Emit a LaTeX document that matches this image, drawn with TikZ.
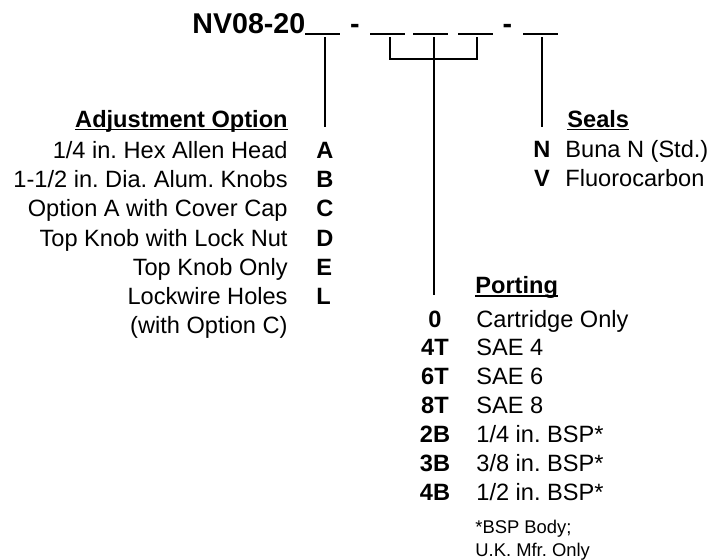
\documentclass[tikz,border=0pt]{standalone}
\usepackage{fontspec}
\setmainfont{Liberation Sans}
\usetikzlibrary{positioning}
\frenchspacing

\begin{document}
\begin{tikzpicture}[x=0.5pt,y=-0.5pt,
  txt/.style={inner sep=0pt,font=\fontsize{11.8}{14}\selectfont},
  code/.style={inner sep=0pt,font=\fontsize{11.8}{14}\selectfont\bfseries},
  blank/.style={line width=0.65pt},
  lead/.style={line width=0.55pt}]
  \useasboundingbox (0,0) rectangle (714,559);
  % model code
  \node[anchor=base west,inner sep=0pt,font=\fontsize{14.3}{17}\selectfont\bfseries] (model) at (192,33) {NV08-20};
  \node[anchor=base,inner sep=0pt,font=\fontsize{14.3}{17}\selectfont\bfseries] (dashA) at (355,33) {-};
  \node[anchor=base,inner sep=0pt,font=\fontsize{14.3}{17}\selectfont\bfseries] (dashB) at (507.5,33) {-};
  \foreach \n/\a/\b in {s1/305/340,s2/370/405,s3/413/448,s4/458/493,s5/523/558} {\coordinate (\n l) at (\a,34); \coordinate (\n r) at (\b,34); \draw[blank] (\n l) -- (\n r);}
  % leader lines
  \coordinate (tA) at (325,37); \coordinate (bA) at (325,127);
  \coordinate (tP1) at (390,37); \coordinate (tP3) at (477,37); \coordinate (tP) at (434,37); \coordinate (bP) at (434,295);
  \coordinate (tS) at (542,37); \coordinate (bS) at (542,127);
  \draw[lead] (tA) -- (bA); \draw[lead] (tS) -- (bS); \draw[lead] (tP) -- (bP);
  \draw[lead] (tP1) |- (tP |- 0,59) -| (tP3);
  % adjustment option
  \node[code,anchor=base east] (hAdj) at (288,127) {Adjustment Option};
  \draw[blank] ([yshift=-1.3pt]hAdj.base west) -- ([yshift=-1.3pt]hAdj.base east);
  \foreach \t/\c/\y in {{1/4 in. Hex Allen Head}/A/158.3,{1-1/2 in. Dia. Alum. Knobs}/B/187.6,Option A with Cover Cap/C/216.9,Top Knob with Lock Nut/D/246.2,Top Knob Only/E/275.5,Lockwire Holes/L/304.8} {\node[txt,anchor=base east] (adj\c) at (288,\y) {\t}; \node[code,anchor=base west] (opt\c) at (316,\y) {\c};}
  \node[txt,anchor=base east] (adjL2) at (288,333) {(with Option C)};
  % seals
  \node[code,anchor=base west] (hSeal) at (567,127) {Seals};
  \draw[blank] ([yshift=-1.3pt]hSeal.base west) -- ([yshift=-1.3pt]hSeal.base east);
  \foreach \c/\t/\y in {N/Buna N (Std.)/157.5,V/Fluorocarbon/186} {\node[code,anchor=base] (seal\c) at (542,\y) {\c}; \node[txt,anchor=base west] (sealtxt\c) at (565,\y) {\t};}
  % porting
  \node[code,anchor=base west] (hPort) at (475,293.5) {Porting};
  \draw[blank] ([yshift=-1.3pt]hPort.base west) -- ([yshift=-1.3pt]hPort.base east);
  \foreach \c/\t/\y in {0/Cartridge Only/327,4T/SAE 4/355.9,6T/SAE 6/384.7,8T/SAE 8/413.6,2B/{1/4 in. BSP*}/442.4,3B/{3/8 in. BSP*}/471.3,4B/{1/2 in. BSP*}/500} {\node[code,anchor=base] (port\c) at (435,\y) {\c}; \node[txt,anchor=base west] (porttxt\c) at (476,\y) {\t};}
  \node[anchor=base west,align=left,inner sep=0pt,font=\fontsize{9.2}{11.5}\selectfont] (note) at (475,556) {*BSP Body;\\U.K. Mfr. Only};
\end{tikzpicture}
\end{document}
